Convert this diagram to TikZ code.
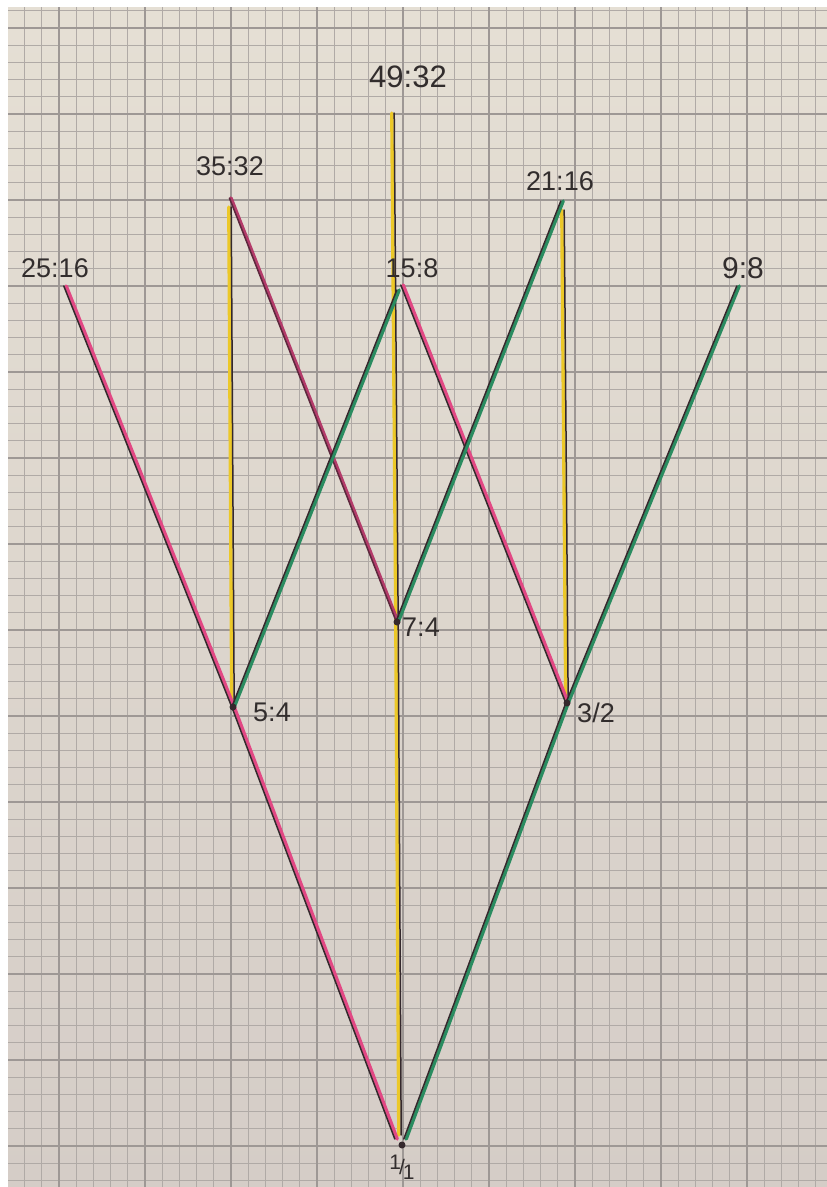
\documentclass[tikz,border=0pt]{standalone}
\usepackage{fontspec}
\setmainfont{Liberation Sans}
\definecolor{paperTop}{RGB}{229,223,212}
\definecolor{paperBot}{RGB}{213,205,199}
\definecolor{gridc}{RGB}{176,170,166}
\definecolor{gridM}{RGB}{158,152,149}
\definecolor{ink}{RGB}{50,45,45}
\definecolor{pinkc}{RGB}{226,72,132}
\definecolor{greenc}{RGB}{42,140,96}
\definecolor{yellowc}{RGB}{236,200,40}
\definecolor{darkc}{RGB}{52,40,44}
\definecolor{maroonc}{RGB}{110,40,68}
\begin{document}
\begin{tikzpicture}[x=1pt,y=-1pt,
  gridminor/.style={draw=gridc,line width=0.9pt},
  gridmajor/.style={draw=gridM,line width=1.4pt},
  colpen/.style={line width=3.4pt,line cap=round,line join=round},
  darkpen/.style={draw=darkc,line width=1.5pt,line cap=round,line join=round},
  lab/.style={font=\fontsize{27}{30}\selectfont,text=ink,inner sep=0pt},
  labbig/.style={font=\fontsize{31}{34}\selectfont,text=ink,inner sep=0pt},
  dotn/.style={circle,fill=darkc,inner sep=0pt,minimum size=7pt}]
\useasboundingbox (0,0) rectangle (827,1187);
\fill[white] (0,0) rectangle (827,1187);
\shade[top color=paperTop,bottom color=paperBot] (8,7) rectangle (827,1187);
% grid
\foreach \k in {-2,...,44} {\draw[gridminor] ({59+17.2*\k},7) -- ({59+17.2*\k},1187);}
\foreach \k in {-6,...,62} {\draw[gridminor] (8,{114+17.2*\k}) -- (827,{114+17.2*\k});}
\foreach \k in {0,5,...,40} {\draw[gridmajor] ({59+17.2*\k},7) -- ({59+17.2*\k},1187);}
\foreach \k in {-5,0,...,60} {\draw[gridmajor] (8,{114+17.2*\k}) -- (827,{114+17.2*\k});}
% junction coordinates
\coordinate (O) at (402,1145);
\coordinate (Ol) at (396,1139);
\coordinate (Oc) at (400,1135);
\coordinate (Or) at (405,1139);
\coordinate (A) at (233,707);
\coordinate (B) at (567,703);
\coordinate (C) at (397,622);
\coordinate (D) at (65,286);
\coordinate (Eg) at (398,290);
\coordinate (Ep) at (402,285);
\coordinate (F) at (738,286);
\coordinate (Gy) at (230,207);
\coordinate (G) at (230,198);
\coordinate (Hy) at (563,210);
\coordinate (H) at (562,201);
\coordinate (I) at (393,113);
% yellow verticals
\draw[colpen,draw=yellowc] ([xshift=-1.2pt]Oc) -- ([xshift=-1.2pt]C) -- ([xshift=-1.2pt]I);
\draw[darkpen] ([xshift=1.2pt]Oc) -- ([xshift=1.2pt]C) -- ([xshift=1.2pt]I);
\draw[colpen,draw=yellowc] ([xshift=-1.2pt]A) -- ([xshift=-1.2pt]Gy);
\draw[darkpen] ([xshift=1.2pt]A) -- ([xshift=1.2pt]Gy);
\draw[colpen,draw=yellowc] ([xshift=-1.2pt]B) -- ([xshift=-1.2pt]Hy);
\draw[darkpen] ([xshift=1.2pt]B) -- ([xshift=1.2pt]Hy);
% pink lines
\draw[colpen,draw=pinkc] ([xshift=1.2pt]Ol) -- ([xshift=1.2pt]A) -- ([xshift=1.2pt]D);
\draw[darkpen] ([xshift=-1.2pt]Ol) -- ([xshift=-1.2pt]A) -- ([xshift=-1.2pt]D);
\draw[colpen,draw=pinkc] ([xshift=1.2pt]B) -- ([xshift=1.2pt]Ep);
\draw[darkpen] ([xshift=-1.2pt]B) -- ([xshift=-1.2pt]Ep);
\draw[colpen,draw=pinkc!60!maroonc] ([xshift=1pt]C) -- ([xshift=1pt]G);
\draw[darkpen,draw=maroonc!70!darkc] ([xshift=-0.6pt]C) -- ([xshift=-0.6pt]G);
% green lines
\draw[colpen,draw=greenc] ([xshift=1.2pt]Or) -- ([xshift=1.2pt]B) -- ([xshift=1.2pt]F);
\draw[darkpen] ([xshift=-1.2pt]Or) -- ([xshift=-1.2pt]B) -- ([xshift=-1.2pt]F);
\draw[colpen,draw=greenc] ([xshift=1.2pt]A) -- ([xshift=1.2pt]Eg);
\draw[darkpen] ([xshift=-1.2pt]A) -- ([xshift=-1.2pt]Eg);
\draw[colpen,draw=greenc] ([xshift=1.2pt]C) -- ([xshift=1.2pt]H);
\draw[darkpen] ([xshift=-1.2pt]C) -- ([xshift=-1.2pt]H);
% dots
\node[dotn] (dO) at (O) {};
\node[dotn] (dA) at (A) {};
\node[dotn] (dB) at (B) {};
\node[dotn] (dC) at (C) {};
% labels
\node[labbig] (n4932) at (408,77) {49:32};
\node[lab] (n3532) at (230,166) {35:32};
\node[lab] (n2116) at (560,181) {21:16};
\node[lab] (n2516) at (55,268) {25:16};
\node[lab] (n158) at (412,268) {15:8};
\node[lab,font=\fontsize{30}{32}\selectfont] (n98) at (743,268) {9:8};
\node[lab] (n74) at (421,627) {7:4};
\node[lab] (n54) at (272,712) {5:4};
\node[lab] (n32) at (596,713) {3/2};
\node[lab,font=\fontsize{21}{23}\selectfont] (n11) at (402,1167) {\raisebox{5pt}{1}\kern-2pt/\kern-2pt\raisebox{-5pt}{1}};
\end{tikzpicture}
\end{document}
